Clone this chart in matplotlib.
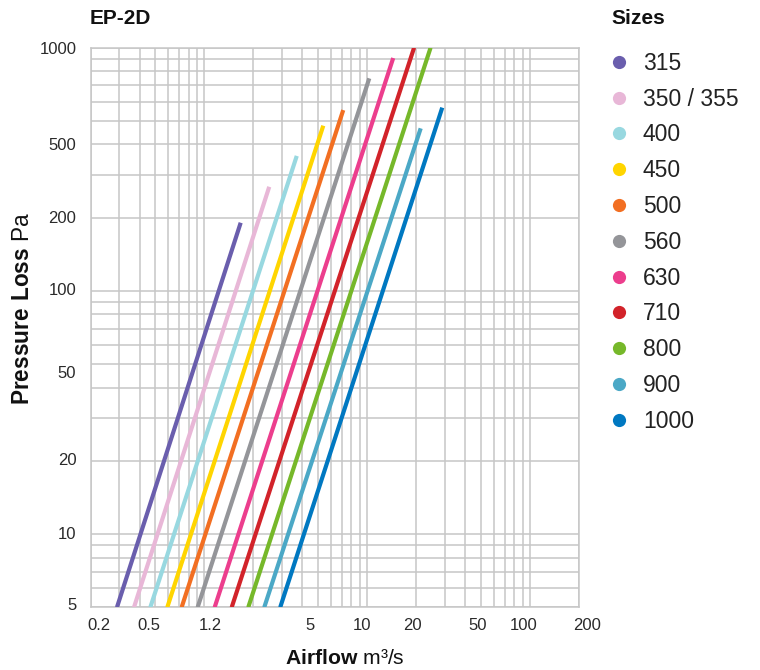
import matplotlib
matplotlib.use('Agg')
import matplotlib.pyplot as plt
import matplotlib.transforms as mtransforms
from matplotlib.lines import Line2D
from matplotlib.ticker import LogLocator, FixedLocator, FixedFormatter, NullFormatter
import numpy as np

plt.rcParams['font.family'] = ['Liberation Sans', 'DejaVu Sans']
plt.rcParams['mathtext.fontset'] = 'custom'
plt.rcParams['mathtext.rm'] = 'Liberation Sans'
plt.rcParams['mathtext.bf'] = 'Liberation Sans:bold'

# ---- data ----
sizes = ['315', '350 / 355', '400', '450', '500', '560', '630', '710', '800', '900', '1000']
colors = ['#6a5ead', '#e8b7d7', '#98d8e0', '#ffd500', '#f26f22', '#949599',
          '#ec3e8d', '#d2232a', '#76b82a', '#4ba8c6', '#0078c1']
flow_start = [0.290, 0.369, 0.465, 0.591, 0.724, 0.908, 1.155, 1.47, 1.858, 2.33, 2.92]
flow_end = [1.669, 2.50, 3.69, 5.37, 7.12, 10.29, 14.44, 19.4, 24.5, 21.3, 28.9]
loss_start = [5, 5, 5, 5, 5, 5, 5, 5, 5, 5, 5]
loss_end = [190.7, 268, 359, 478, 554, 748, 907, 1000, 1000, 466, 567]

xticks = [0.2, 0.5, 1.2, 5, 10, 20, 50, 100, 200]
xticklabels = ['0.2', '0.5', '1.2', '5', '10', '20', '50', '100', '200']
yticks = [5, 10, 20, 50, 100, 200, 500, 1000]
yticklabels = ['5', '10', '20', '50', '100', '200', '500', '1000']

# label nudges (pixels) to mimic the reference placement
x_nudge = [8.3, -6.8, -6.6, -8, -5.6, -3.6, -3.7, -6, 7.7]
y_nudge = [3.3, 1.3, 1.7, -7.6, 1.6, 1.0, -23.1, -0.8]

W, H = 760, 670
fig = plt.figure(figsize=(W / 100, H / 100), dpi=100)
ax = fig.add_axes([90.7 / W, 1 - 607.3 / H, (579 - 90.7) / W, (607.3 - 47.7) / H])
ax.set_xscale('log')
ax.set_yscale('log')
ax.set_xlim(0.2, 200)
ax.set_ylim(5, 1000)

grid_c = '#c6c6c6'
for q0, q1, p0, p1, c in zip(flow_start, flow_end, loss_start, loss_end, colors):
    ax.plot([q0, q1], [p0, p1], color=c, lw=3.0, solid_capstyle='butt', zorder=3)

for axis in (ax.xaxis, ax.yaxis):
    axis.remove_overlapping_locs = False
    axis.set_minor_locator(LogLocator(base=10, subs=np.arange(1, 10), numticks=50))
    axis.set_minor_formatter(NullFormatter())

ax.xaxis.set_major_locator(FixedLocator(xticks))
ax.xaxis.set_major_formatter(FixedFormatter(xticklabels))
ax.yaxis.set_major_locator(FixedLocator(yticks))
ax.yaxis.set_major_formatter(FixedFormatter(yticklabels))

ax.grid(False, which='major')
ax.grid(True, which='minor', color=grid_c, lw=1.1, zorder=0)
ax.set_axisbelow(True)
ax.tick_params(which='both', length=0)
ax.tick_params(axis='x', which='major', pad=7.6, labelsize=12, labelcolor='#2a2a2a')
ax.tick_params(axis='y', which='major', pad=10.4, labelsize=12, labelcolor='#2a2a2a')
for s in ax.spines.values():
    s.set_color(grid_c)
    s.set_linewidth(1.1)

for lab, dx in zip(ax.get_xticklabels(), x_nudge):
    lab.set_transform(lab.get_transform() + mtransforms.ScaledTranslation(dx / 100, 0, fig.dpi_scale_trans))
for lab, dy in zip(ax.get_yticklabels(), y_nudge):
    lab.set_transform(lab.get_transform() + mtransforms.ScaledTranslation(0, dy / 100, fig.dpi_scale_trans))

fig.text(89.3 / W, 1 - 19 / H, 'EP-2D', fontsize=15, fontweight='bold', ha='left', va='center', color='#111111')
fig.text(611.7 / W, 1 - 19 / H, 'Sizes', fontsize=15, fontweight='bold', ha='left', va='center', color='#111111')
fig.text(344.7 / W, 1 - 658 / H, r'$\mathbf{Airflow}$ m³/s', fontsize=15.2, ha='center', va='center', color='#111111')
fig.text(22.5 / W, 1 - 308 / H, r'$\mathbf{Pressure\ Loss}$ Pa', fontsize=16.3, rotation=90,
         ha='center', va='center', color='#111111')

handles = [Line2D([], [], linestyle='none', marker='o', markersize=9.5,
                  markerfacecolor=c, markeredgecolor='none') for c in colors]
leg = fig.legend(handles, sizes, loc='upper left', bbox_to_anchor=(611.7 / W, 1 - 51.8 / H),
                 frameon=False, fontsize=16.5, handlelength=0.64, handletextpad=0.72,
                 labelspacing=0.558, borderpad=0, borderaxespad=0)
for t in leg.get_texts():
    t.set_color('#222222')

fig.savefig('out.png', dpi=100)
